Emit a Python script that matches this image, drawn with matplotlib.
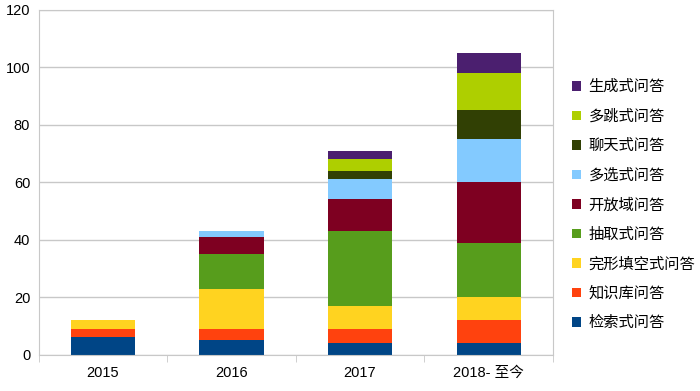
import numpy as np
import matplotlib.pyplot as plt

plt.rcParams['font.family'] = ['Liberation Sans', 'Noto Sans CJK SC', 'DejaVu Sans']

years = ['2015', '2016', '2017', '2018- 至今']
series_names = ['检索式问答', '知识库问答', '完形填空式问答', '抽取式问答', '开放域问答',
                '多选式问答', '聊天式问答', '多跳式问答', '生成式问答']
retrieval = [6, 5, 4, 4]
kb = [3, 4, 5, 8]
cloze = [3, 14, 8, 8]
extractive = [0, 12, 26, 19]
open_domain = [0, 6, 11, 21]
multi_choice = [0, 2, 7, 15]
chat = [0, 0, 3, 10]
multi_hop = [0, 0, 4, 13]
generative = [0, 0, 3, 7]
colors = ['#004586', '#ff420e', '#ffd320', '#579d1c', '#7e0021',
          '#83caff', '#314004', '#aecf00', '#4b1f6f']

data = [retrieval, kb, cloze, extractive, open_domain, multi_choice, chat, multi_hop, generative]

fig = plt.figure(figsize=(7, 3.91), dpi=100)
ax = fig.add_axes([0.055, 0.093, 0.735, 0.882])

x = np.arange(len(years))
bottom = np.zeros(len(years))
for name, vals, c in zip(series_names, data, colors):
    vals = np.array(vals, dtype=float)
    ax.bar(x, vals, 0.5, bottom=bottom, color=c, label=name, zorder=2)
    bottom += vals

ax.set_xlim(-0.5, len(years) - 0.5)
ax.set_ylim(0, 120)
ax.set_yticks(range(0, 121, 20))
ax.yaxis.grid(True, color='#c8c8c8', linewidth=1, zorder=0)
for s in ax.spines.values():
    s.set_color('#c8c8c8')
ax.tick_params(axis='y', length=0, labelsize=10.5, pad=6)
ax.set_xticks(x)
ax.set_xticklabels(years)
ax.tick_params(axis='x', length=0, labelsize=10.5, pad=8)
ax.set_xticks(np.arange(-0.5, len(years)), minor=True)
ax.tick_params(axis='x', which='minor', length=5, color='#c8c8c8')

handles, labels = ax.get_legend_handles_labels()
fig.legend(handles[::-1], labels[::-1], loc='center left', bbox_to_anchor=(0.797, 0.476),
           frameon=False, handlelength=0.6, handleheight=0.6,
           handletextpad=0.5, labelspacing=0.82, prop={'family': ['Noto Sans CJK SC'], 'size': 11})

plt.savefig('out.png', dpi=100)
